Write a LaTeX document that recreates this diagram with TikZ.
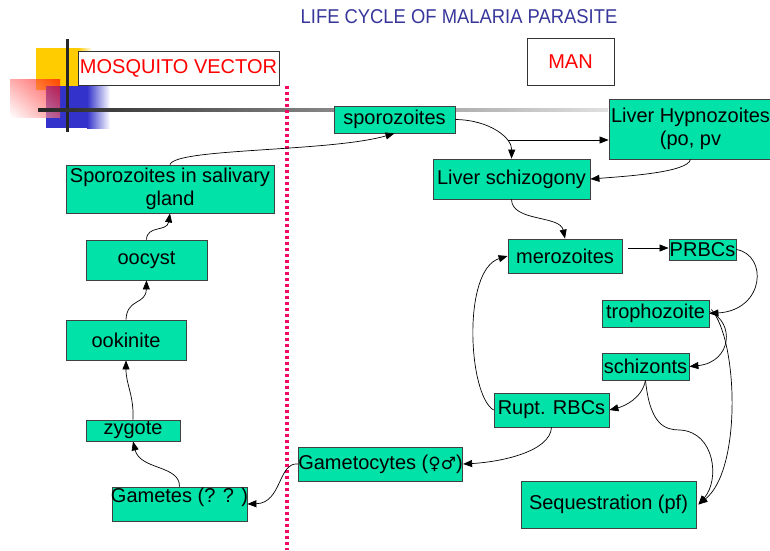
\documentclass[tikz,border=0pt]{standalone}
\usepackage{fontspec}
\setmainfont{Liberation Sans}
\newfontfamily\symf{DejaVu Sans}
\usetikzlibrary{arrows.meta,calc,shadings}
\definecolor{mint}{RGB}{0,226,168}
\definecolor{titleblue}{RGB}{55,55,155}
\definecolor{dotpink}{RGB}{240,10,100}
\definecolor{yel}{RGB}{255,204,0}
\definecolor{blu}{RGB}{51,51,204}
\newcommand{\fs}{\fontsize{20}{23}\selectfont}
\tikzset{
  gbox/.style={draw=black!75, fill=mint, line width=0.8pt, inner sep=0pt, font=\fs, align=center},
  wbox/.style={draw=black!80, fill=white, line width=0.8pt, inner sep=0pt, font=\fs, text=red},
  arr/.style={-{Triangle[length=9pt,width=7pt]}, line width=0.7pt, draw=black}
}
\begin{document}
\begin{tikzpicture}[x=1pt,y=-1pt]
\useasboundingbox (0,0) rectangle (770,550);
% decorations
\fill[yel] (36,48) rectangle (78,90);
\shade[left color=yel, right color=white] (78,48) rectangle (92,90);
\fill[blu] (46,86) rectangle (87,128);
\shade[left color=blu, right color=white] (87,86) rectangle (110,128);
\shade[upper left=red!50, upper right=red, lower left=white, lower right=red!60, fill opacity=0.65] (10,79) rectangle (60,117);
\fill[black!85] (65.5,39) rectangle (68.5,132);
\shade[left color=black!85, right color=black!12] (38,108.2) rectangle (608,111.8);
\draw[dotpink, line width=3.6pt, dash pattern=on 3.4pt off 2.6pt] (287,86) -- (287,550);
% title
\node[text=titleblue, font=\fs, inner sep=0pt] (title) at (459,17) {\scalebox{0.92}[1]{LIFE CYCLE OF MALARIA PARASITE}};
\node[wbox, minimum width=201, minimum height=34] (mosq) at (178.5,68) {MOSQUITO VECTOR};
\node[wbox, minimum width=87, minimum height=47] (man) at (570.5,61.5) {MAN};
% nodes
\node[gbox, minimum width=121, minimum height=27] (spz) at (394.5,119.5) {sporozoites};
\node[gbox, minimum width=163, minimum height=60] (hyp) at (690.5,129) {Liver Hypnozoites\\(po, pv};
\node[gbox, minimum width=157, minimum height=40] (lsch) at (511.5,179) {Liver schizogony};
\node[gbox, minimum width=114, minimum height=34] (mer) at (565,256) {merozoites};
\node[gbox, minimum width=67, minimum height=21] (prbc) at (702.5,249.5) {PRBCs};
\node[gbox, minimum width=107, minimum height=27] (tro) at (655.5,313.5) {trophozoite};
\node[gbox, minimum width=87, minimum height=27] (sch) at (645.5,366.5) {schizonts};
\node[gbox, minimum width=115, minimum height=34] (rupt) at (551.5,410) {Rupt. RBCs};
\node[gbox, minimum width=161, minimum height=34] (gmc) at (380.5,464) {Gametocytes ({\symf\fontsize{17}{20}\selectfont ♀♂})};
\node[gbox, minimum width=175, minimum height=47] (seq) at (608.5,504.5) {Sequestration (pf)};
\node[gbox, minimum width=208, minimum height=48] (sal) at (170,189) {Sporozoites in salivary\\gland};
\node[gbox, minimum width=121, minimum height=40] (ooc) at (146.5,260) {oocyst};
\node[gbox, minimum width=120, minimum height=40] (ook) at (126,340) {ookinite};
\node[gbox, minimum width=94, minimum height=21] (zyg) at (133,430.5) {zygote};
\node[gbox, minimum width=135, minimum height=34,
  label={[anchor=north, inner sep=0pt, font=\fs, yshift=-1pt]north:Gametes (? ? )}] (gam) at (179.5,504) {};
% free coordinates
\coordinate (hstart) at (508,140);
\coordinate (mstart) at (628,248);
% connectors
\draw[arr] (sal.north) .. controls (175,148) and (330,152) .. (spz.south);
\draw[arr] (spz.east) .. controls (490,120) and (512,138) .. (lsch.north);
\draw[arr] (hstart) -- (hyp.west |- hstart);
\draw[arr] (hyp.south) .. controls (688,172) and (630,176) .. (lsch.east);
\draw[arr] (lsch.south) .. controls (512,222) and (560,215) .. (mer.north);
\draw[arr] (mstart) -- (prbc.west |- mstart);
\draw[arr] (prbc.east) .. controls (768,255) and (765,310) .. (tro.east);
\draw[arr] ([yshift=2pt]tro.east) .. controls (735,322) and (732,362) .. (sch.east);
\draw[arr] ([xshift=2pt,yshift=4pt]tro.east) .. controls (738,340) and (742,470) .. ([xshift=2pt]seq.east);
\draw[arr] (sch.south) .. controls (650,425) and (665,430) .. (680,430) .. controls (715,432) and (720,480) .. ([xshift=2pt]seq.east);
\draw[arr] (sch.south) .. controls (642,398) and (625,406) .. (rupt.east);
\draw[arr] (rupt.west) .. controls (468,395) and (462,270) .. (mer.west);
\draw[arr] (rupt.south) .. controls (550,452) and (500,462) .. (gmc.east);
\draw[arr] (gmc.west) .. controls (278,462) and (282,503) .. (gam.east);
\draw[arr] (gam.north) .. controls (180,465) and (140,470) .. (zyg.south);
\draw[arr] (zyg.north) .. controls (134,395) and (126,385) .. (ook.south);
\draw[arr] (ook.north) .. controls (127,298) and (146,305) .. (ooc.south);
\draw[arr] (ooc.north) .. controls (147,225) and (167,232) .. (sal.south);
\end{tikzpicture}
\end{document}
